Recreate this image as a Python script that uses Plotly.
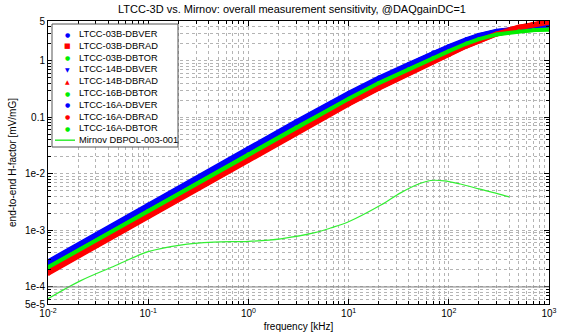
import plotly.graph_objects as go

# ---------------- data ----------------
freq = [0.01, 0.1, 1, 3, 10, 20, 40, 70, 100, 150, 200, 300, 500, 700, 1000]  # kHz

ltcc_03B_DBVER = [2.85e-4, 2.85e-3, 2.85e-2, 8.5e-2, 0.27, 0.50, 0.88, 1.40, 1.80, 2.40, 2.85, 3.35, 3.80, 4.00, 4.15]
ltcc_03B_DBRAD = [1.80e-4, 1.80e-3, 1.80e-2, 5.4e-2, 0.175, 0.33, 0.61, 0.98, 1.30, 1.82, 2.28, 3.00, 3.85, 4.35, 4.80]
ltcc_03B_DBTOR = [2.35e-4, 2.35e-3, 2.35e-2, 7.0e-2, 0.225, 0.42, 0.74, 1.17, 1.52, 2.08, 2.48, 2.98, 3.38, 3.52, 3.62]
ltcc_14B_DBVER = [2.75e-4, 2.75e-3, 2.75e-2, 8.2e-2, 0.26, 0.48, 0.85, 1.35, 1.75, 2.35, 2.80, 3.30, 3.75, 3.95, 4.10]
ltcc_14B_DBRAD = [1.88e-4, 1.88e-3, 1.88e-2, 5.6e-2, 0.182, 0.345, 0.63, 1.02, 1.35, 1.88, 2.34, 3.05, 3.90, 4.40, 4.85]
ltcc_16B_DBTOR = [2.28e-4, 2.28e-3, 2.28e-2, 6.8e-2, 0.218, 0.41, 0.72, 1.14, 1.49, 2.03, 2.43, 2.93, 3.33, 3.48, 3.58]
ltcc_16A_DBVER = [2.65e-4, 2.65e-3, 2.65e-2, 7.9e-2, 0.25, 0.47, 0.83, 1.32, 1.71, 2.30, 2.75, 3.25, 3.70, 3.90, 4.05]
ltcc_16A_DBRAD = [1.75e-4, 1.75e-3, 1.75e-2, 5.25e-2, 0.17, 0.325, 0.60, 0.96, 1.28, 1.80, 2.25, 2.95, 3.80, 4.30, 4.75]
ltcc_16A_DBTOR = [2.22e-4, 2.22e-3, 2.22e-2, 6.6e-2, 0.212, 0.40, 0.71, 1.12, 1.47, 2.00, 2.40, 2.90, 3.30, 3.45, 3.55]

mirnov_freq = [0.01, 0.021, 0.045, 0.1, 0.21, 0.45, 1.0, 2.1, 4.5, 6.6, 10, 21, 33, 50, 66, 90, 130, 200, 300, 400]
mirnov_val = [6.2e-5, 1.28e-4, 2.3e-4, 4.2e-4, 5.5e-4, 6.2e-4, 6.4e-4, 7.1e-4, 9.0e-4, 1.1e-3,
              1.42e-3, 2.8e-3, 4.6e-3, 6.6e-3, 7.6e-3, 7.5e-3, 6.6e-3, 5.4e-3, 4.5e-3, 3.9e-3]

series_names = ["LTCC-03B-DBVER", "LTCC-03B-DBRAD", "LTCC-03B-DBTOR",
                "LTCC-14B-DBVER", "LTCC-14B-DBRAD", "LTCC-16B-DBTOR",
                "LTCC-16A-DBVER", "LTCC-16A-DBRAD", "LTCC-16A-DBTOR"]
series_vals = [ltcc_03B_DBVER, ltcc_03B_DBRAD, ltcc_03B_DBTOR,
               ltcc_14B_DBVER, ltcc_14B_DBRAD, ltcc_16B_DBTOR,
               ltcc_16A_DBVER, ltcc_16A_DBRAD, ltcc_16A_DBTOR]
mirnov_name = "Mirnov DBPOL-003-001"

x_tickvals = [0.01, 0.1, 1, 10, 100, 1000]
x_ticktext = ["10<sup>-2</sup>", "10<sup>-1</sup>", "10<sup>0</sup>", "10<sup>1</sup>", "10<sup>2</sup>", "10<sup>3</sup>"]
y_tickvals = [5e-5, 1e-4, 1e-3, 1e-2, 0.1, 1, 5]
y_ticktext = ["5e-5", "1e-4", "1e-3", "1e-2", "0.1", "1", "5"]

# ---------------- styles ----------------
colors = ["#0000ff", "#ff0000", "#00ee00"] * 3
legend_glyphs = ["●", "■", "●", "▼", "▲", "●", "●", "●", "●"]
glyph_sizes = [6, 7, 6, 6, 6, 6, 6, 6, 6]
widths = [4, 5, 4, 4, 5, 4, 4, 5, 4]
mirnov_color = "#33ee33"

fig = go.Figure()
for name, vals, c, w in zip(series_names, series_vals, colors, widths):
    fig.add_trace(go.Scatter(x=freq, y=vals, mode="lines+markers", name=name,
                             line=dict(color=c, width=w),
                             marker=dict(color=c, size=w, symbol="circle", line=dict(width=0)),
                             showlegend=False))

fig.add_trace(go.Scatter(x=mirnov_freq, y=mirnov_val, mode="lines", name=mirnov_name,
                         line=dict(color=mirnov_color, width=1.2, shape="spline"),
                         showlegend=False))

# minor grid values
minor_x = [m * 10 ** e for e in range(-2, 3) for m in range(2, 10)]
minor_y = [m * 10 ** e for e in range(-5, 1) for m in range(2, 10) if 5e-5 < m * 10 ** e < 5]

grid_col = "#b4b4b4"
axis_common = dict(showline=True, linecolor="black", linewidth=1, mirror="allticks",
                   ticks="inside", ticklen=5, tickcolor="black",
                   showgrid=True, gridcolor=grid_col, griddash="dot", gridwidth=1,
                   zeroline=False, tickfont=dict(size=10, color="black"), automargin=False)
fig.update_xaxes(type="log", range=[-2, 3], tickvals=x_tickvals, ticktext=x_ticktext,
                 minor=dict(tickvals=minor_x, ticks="inside", ticklen=3, tickcolor="black",
                            showgrid=True, gridcolor=grid_col, griddash="dot", gridwidth=1),
                 title=dict(text="frequency [kHz]", font=dict(size=10, color="black"), standoff=4),
                 **axis_common)
fig.update_yaxes(type="log", range=[-4.30103, 0.69897], tickvals=y_tickvals, ticktext=y_ticktext,
                 minor=dict(tickvals=minor_y, ticks="inside", ticklen=3, tickcolor="black",
                            showgrid=True, gridcolor=grid_col, griddash="dot", gridwidth=1),
                 title=dict(text="end-to-end H-factor [mV/mG]", font=dict(size=10, color="black"), standoff=6),
                 **axis_common)

fig.add_hline(y=1e-4, line=dict(color="#808080", width=1))

# ---------------- manual legend (paper coordinates) ----------------
plot_l, plot_r, plot_t, plot_b = 48, 549, 21, 304
def px(xp):
    return (xp - plot_l) / (plot_r - plot_l)
def py(yp):
    return (plot_b - yp) / (plot_b - plot_t)

fig.add_shape(type="rect", xref="paper", yref="paper",
              x0=px(52), x1=px(178), y0=py(147), y1=py(24),
              line=dict(color="#555555", width=1), fillcolor="white", layer="above")
row0, row_h = 34, 11.8
legend_labels = series_names + [mirnov_name]
for i, label in enumerate(legend_labels):
    yr = py(row0 + row_h * i)
    fig.add_annotation(x=px(77), y=yr, xref="paper", yref="paper", text=label,
                       showarrow=False, xanchor="left", yanchor="middle",
                       font=dict(size=9.3, color="black"))
    if i < len(series_names):
        fig.add_annotation(x=px(67), y=yr, xref="paper", yref="paper", text=legend_glyphs[i],
                           showarrow=False, xanchor="center", yanchor="middle",
                           font=dict(size=glyph_sizes[i], color=colors[i], family="DejaVu Sans"))
    else:
        fig.add_shape(type="line", xref="paper", yref="paper", x0=px(55), x1=px(75),
                      y0=yr, y1=yr, line=dict(color=mirnov_color, width=1.5), layer="above")

fig.update_layout(
    width=584, height=334,
    margin=dict(l=plot_l, r=584 - plot_r, t=plot_t, b=334 - plot_b),
    paper_bgcolor="white", plot_bgcolor="white",
    font=dict(family="Liberation Sans, Arial, sans-serif", size=10, color="black"),
    title=dict(text="LTCC-3D vs. Mirnov: overall measurement sensitivity, @DAQgainDC=1",
               font=dict(size=11, color="black"), x=0.5, xanchor="center",
               yref="container", y=0.972, yanchor="middle"),
    showlegend=False,
)

fig.write_html("out.html")
